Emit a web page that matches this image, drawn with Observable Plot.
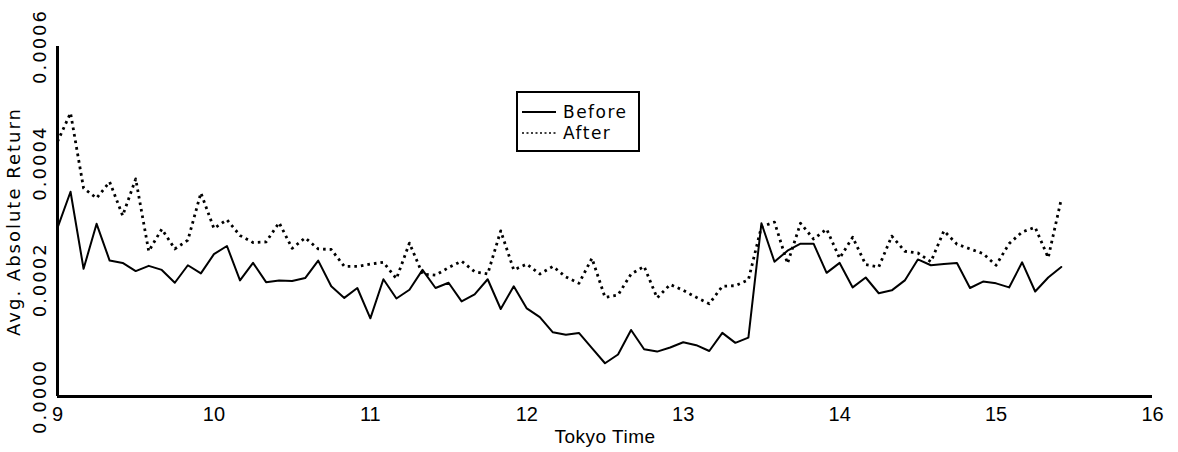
<!DOCTYPE html>
<html>
<head>
<meta charset="utf-8">
<script src="https://cdn.jsdelivr.net/npm/d3@7"></script>
<script src="https://cdn.jsdelivr.net/npm/@observablehq/plot@0.6"></script>
<style>
  body { margin: 0; background: #fff; }
  #wrap { position: relative; width: 1178px; height: 452px; font-family: "DejaVu Sans", sans-serif; }
  #wrap svg text { fill: #000; }
  g[aria-label="y-axis tick label"] text { letter-spacing: 2px; font-family: "DejaVu Sans", sans-serif; }
  g[aria-label="y-axis label"] text { letter-spacing: 2px; font-family: "DejaVu Sans", sans-serif; }
  g[aria-label="x-axis tick label"] text { font-family: "Liberation Sans Narrow", "Liberation Sans", sans-serif; }
  g[aria-label="x-axis label"] text { letter-spacing: 0.5px; font-family: "Liberation Sans Narrow", "Liberation Sans", sans-serif; }
  #legend { position: absolute; left: 516px; top: 91px; width: 120px; height: 57px;
            border: 2px solid #000; background: #fff; font-size: 17px; letter-spacing: 1.5px;
            font-family: "DejaVu Sans", sans-serif; }
  #legend .row { position: absolute; left: 4px; display: flex; align-items: center; height: 20px; }
  #legend svg { margin-right: 7px; }
</style>
</head>
<body>
<div id="wrap"></div>
<script>
// 5-minute intervals, Tokyo time
const times = [
  "9:00","9:05","9:10","9:15","9:20","9:25","9:30","9:35","9:40","9:45","9:50","9:55",
  "10:00","10:05","10:10","10:15","10:20","10:25","10:30","10:35","10:40","10:45","10:50","10:55",
  "11:00","11:05","11:10","11:15","11:20","11:25","11:30","11:35","11:40","11:45","11:50","11:55",
  "12:00","12:05","12:10","12:15","12:20","12:25","12:30","12:35","12:40","12:45","12:50","12:55",
  "13:00","13:05","13:10","13:15","13:20","13:25","13:30","13:35","13:40","13:45","13:50","13:55",
  "14:00","14:05","14:10","14:15","14:20","14:25","14:30","14:35","14:40","14:45","14:50","14:55",
  "15:00","15:05","15:10","15:15","15:20","15:25"
];
const before = [
  0.000289,0.000351,0.000219,0.000296,0.000233,0.000229,0.000215,0.000224,0.000217,0.000195,
  0.000225,0.000211,0.000244,0.000258,0.000199,0.000229,0.000196,0.000199,0.000198,0.000203,
  0.000233,0.000189,0.000169,0.000186,0.000134,0.000201,0.000168,0.000183,0.000217,0.000186,
  0.000195,0.000163,0.000175,0.000201,0.000150,0.000189,0.000151,0.000136,0.000110,0.000106,
  0.000109,0.000083,0.000057,0.000072,0.000114,0.000081,0.000077,0.000084,0.000093,0.000088,
  0.000078,0.000109,0.000092,0.000101,0.000297,0.000231,0.000250,0.000262,0.000262,0.000212,
  0.000229,0.000187,0.000204,0.000177,0.000182,0.000199,0.000235,0.000225,0.000227,0.000229,
  0.000186,0.000197,0.000194,0.000187,0.000230,0.000180,0.000204,0.000222
];
const after = [
  0.000437,0.000486,0.000357,0.000340,0.000368,0.000310,0.000373,0.000249,0.000287,0.000253,
  0.000268,0.000349,0.000288,0.000303,0.000276,0.000264,0.000265,0.000298,0.000254,0.000272,
  0.000253,0.000252,0.000223,0.000223,0.000227,0.000230,0.000202,0.000263,0.000210,0.000208,
  0.000221,0.000232,0.000214,0.000210,0.000284,0.000217,0.000227,0.000210,0.000223,0.000205,
  0.000194,0.000237,0.000170,0.000174,0.000210,0.000223,0.000169,0.000192,0.000182,0.000170,
  0.000159,0.000189,0.000190,0.000200,0.000291,0.000299,0.000228,0.000297,0.000270,0.000287,
  0.000237,0.000273,0.000226,0.000222,0.000275,0.000249,0.000246,0.000231,0.000284,0.000261,
  0.000253,0.000245,0.000225,0.000262,0.000282,0.000290,0.000238,0.000338
];
const xTicks = [9, 10, 11, 12, 13, 14, 15, 16];
const yTicks = [0, 0.0002, 0.0004, 0.0006];
const seriesNames = ["Before", "After"];

const toHour = s => { const [h, m] = s.split(":").map(Number); return h + m / 60; };
const rows = [];
times.forEach((t, i) => {
  rows.push({series: seriesNames[0], t: toHour(t), v: before[i]});
  rows.push({series: seriesNames[1], t: toHour(t), v: after[i]});
});

const chart = Plot.plot({
  width: 1178,
  height: 452,
  marginLeft: 57,
  marginRight: 26,
  marginTop: 46,
  marginBottom: 56,
  style: {fontFamily: "'DejaVu Sans', sans-serif", background: "#fff", color: "#000"},
  x: {type: "linear", domain: [9, 16]},
  y: {type: "linear", domain: [0, 0.0006]},
  marks: [
    Plot.axisX({ticks: xTicks, tickFormat: d3.format("d"), tickSize: 0, tickPadding: 10, fontSize: 20,
      label: "Tokyo Time", labelAnchor: "center", labelArrow: "none", labelOffset: 46}),
    Plot.axisY({ticks: yTicks, tickFormat: d3.format(".4f"), rotate: -90, textAnchor: "middle",
      tickSize: 0, tickPadding: 17, fontSize: 18,
      label: "Avg. Absolute Return", labelAnchor: "center", labelArrow: "none", labelOffset: 50}),
    Plot.ruleY([0], {strokeWidth: 3}),
    Plot.ruleX([9], {strokeWidth: 3}),
    Plot.line(rows.filter(d => d.series === "Before"), {x: "t", y: "v", stroke: "#000", strokeWidth: 2}),
    Plot.line(rows.filter(d => d.series === "After"), {x: "t", y: "v", stroke: "#000", strokeWidth: 2.8,
      strokeDasharray: "2.6,4", strokeLinecap: "butt"})
  ]
});
const wrap = document.getElementById("wrap");
wrap.appendChild(chart);
d3.select(chart).selectAll('g[aria-label="y-axis label"] text').style("font-size", "18px");
d3.select(chart).selectAll('g[aria-label="x-axis label"] text').style("font-size", "19px");

// legend
const legend = document.createElement("div");
legend.id = "legend";
const dashes = [null, "2,2.5"];
seriesNames.forEach((name, i) => {
  const row = document.createElement("div");
  row.className = "row";
  row.style.top = (i === 0 ? 9 : 30) + "px";
  row.innerHTML = `<svg width="34" height="6"><line x1="0" x2="34" y1="3" y2="3" stroke="#000" stroke-width="${i === 0 ? 2 : 1.6}" ${dashes[i] ? `stroke-dasharray="${dashes[i]}"` : ""}/></svg><span>${name}</span>`;
  legend.appendChild(row);
});
wrap.appendChild(legend);
</script>
</body>
</html>
